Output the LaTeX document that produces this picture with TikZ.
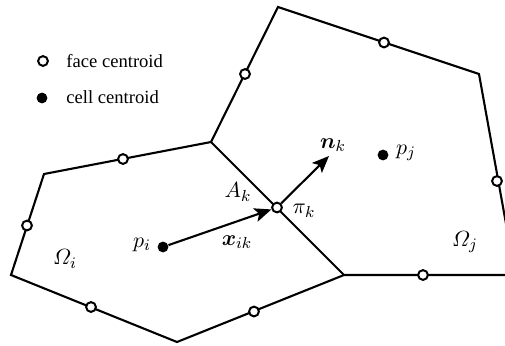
\documentclass[tikz,border=0pt]{standalone}
\usepackage{amsmath}
\usepackage{fontspec}
\setmainfont{Liberation Serif}
\usetikzlibrary{arrows.meta}
\begin{document}
\begin{tikzpicture}[x=0.5pt,y=-0.5pt,
  edge/.style={line width=1.05pt, line join=miter},
  facept/.style={circle, draw, line width=1pt, fill=white, inner sep=0pt, minimum size=4.9pt},
  cellpt/.style={circle, fill=black, inner sep=0pt, minimum size=5.4pt},
  vec/.style={line width=1.05pt, -{Stealth[length=8.5pt,width=7pt,inset=2pt]}},
  lbl/.style={inner sep=0pt, font=\fontsize{11.3}{13}\selectfont},
  legtxt/.style={inner sep=0pt, anchor=west, font=\fontsize{9.3}{11}\selectfont}]
\useasboundingbox (0,0) rectangle (505,345);
\clip (0,0) rectangle (505,345);
% vertices
\coordinate (v1) at (278,7);
\coordinate (v2) at (479,74);
\coordinate (v3) at (516,279);
\coordinate (v4) at (211,142);
\coordinate (v5) at (44,174);
\coordinate (v6) at (11,275);
\coordinate (v7) at (177,342);
\coordinate (v8) at (344,275);
\coordinate (v9) at (515,275);
% edges
\draw[edge] (v3) -- (v2) -- (v1) -- (v4) -- (v5) -- (v6) -- (v7) -- (v8) -- (v9);
\draw[edge] (v4) -- (v8);
% centroids
\node[cellpt] (pi) at (163,247) {};
\node[cellpt] (pj) at (383,155) {};
\node[facept] (pk) at (277,207.5) {};
\coordinate (ntip) at (329,156);
\draw[vec] (pi) -- (pk);
\draw[vec] (pk) -- (ntip);
% face centroids
\node[facept] (f1) at (245,74) {};
\node[facept] (f2) at (384,42.5) {};
\node[facept] (f3) at (123,159) {};
\node[facept] (f4) at (27,225.5) {};
\node[facept] (f5) at (91,307) {};
\node[facept] (f6) at (254,311.5) {};
\node[facept] (f7) at (423,275) {};
\node[facept] (f8) at (497,181) {};
% legend
\node[facept] (lf) at (43,61) {};
\node[cellpt] (lc) at (42,98) {};
\node[legtxt] (lft) at (66,61) {face centroid};
\node[legtxt] (lct) at (66,97) {cell centroid};
% labels
\node[lbl] (nk) at (333,145) {$\boldsymbol{n}_k$};
\node[lbl] (pjl) at (406,153) {$p_j$};
\node[lbl] (pil) at (142,245) {$p_i$};
\node[lbl] (ak) at (238,192) {$A_k$};
\node[lbl] (pik) at (304,211) {$\pi_k$};
\node[lbl] (xik) at (237,242) {$\boldsymbol{x}_{ik}$};
\node[lbl] (oi) at (65,259) {$\varOmega_i$};
\node[lbl] (oj) at (465,242) {$\varOmega_j$};
\end{tikzpicture}
\end{document}
